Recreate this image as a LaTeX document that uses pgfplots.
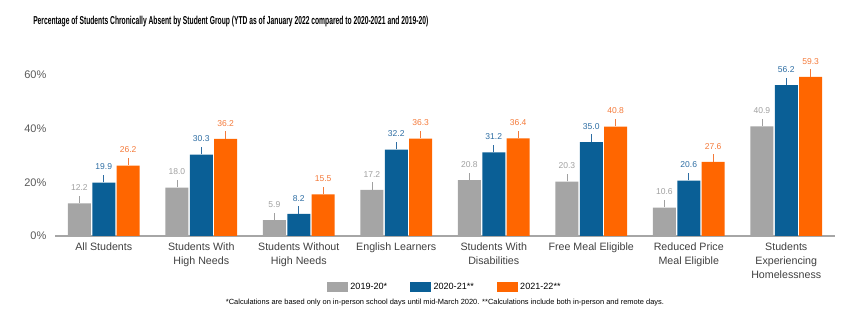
\documentclass[border=0pt]{standalone}
\usepackage{fontspec}
\setmainfont{Liberation Sans}
\usepackage{pgfplots}
\pgfplotsset{compat=1.18}
\usepackage{graphicx}
\definecolor{cgray}{HTML}{A5A5A5}
\definecolor{cblue}{HTML}{0A5F96}
\definecolor{corange}{HTML}{FF6600}
\definecolor{lgray}{HTML}{A0A0A0}
\definecolor{lblue}{HTML}{2D6DA3}
\definecolor{lorange}{HTML}{F47A3A}
\definecolor{xlab}{HTML}{404040}
\definecolor{ylab}{HTML}{595959}
\definecolor{axgray}{HTML}{A6A6A6}
\begin{document}
\begin{tikzpicture}
\useasboundingbox (0,0) rectangle (637.5pt,240.75pt);
\node[anchor=west, inner sep=0pt] at (24.75pt,224.25pt) {\resizebox{296.25pt}{\height}{\bfseries\fontsize{8.6}{10}\selectfont Percentage of Students Chronically Absent by Student Group (YTD as of January 2022 compared to 2020-2021 and 2019-20)}};
\begin{axis}[
  at={(41.25pt,63.75pt)}, anchor=south west,
  scale only axis, width=585pt, height=130.8pt,
  xmin=-0.5, xmax=7.5, ymin=0, ymax=65,
  ybar, bar width=17.25pt,
  xtick={0,...,7},
  xticklabels={All Students,{Students With\\High Needs},{Students Without\\High Needs},English Learners,{Students With\\Disabilities},Free Meal Eligible,{Reduced Price\\Meal Eligible},{Students\\Experiencing\\Homelessness}},
  x tick label style={align=center, font=\fontsize{8}{10.5}\selectfont, text=xlab, yshift=-1.5pt},
  ytick={0,20,40,60},
  yticklabel={\pgfmathprintnumber{\tick}\%},
  y tick label style={font=\fontsize{8.25}{10}\selectfont, text=ylab, xshift=-3pt},
  major tick length=0pt,
  axis x line*=bottom, axis y line*=left,
  y axis line style={draw=none},
  x axis line style={draw=axgray, line width=0.9pt},
  /pgf/number format/assume math mode=true,
  nodes near coords={\shortstack{\pgfmathprintnumber[fixed,fixed zerofill,precision=1]{\pgfplotspointmeta}\\[0.8pt]\rule{0.45pt}{5.5pt}}},
  nodes near coords align={vertical},
  every node near coord/.append style={font=\fontsize{6.4}{7}\selectfont, inner sep=0pt, anchor=south},
  clip=false,
  legend style={at={(0.5,-0.2924)}, anchor=center, draw=none, legend columns=3, font=\fontsize{6.8}{8}\selectfont, /tikz/every even column/.append style={column sep=15pt}},
  legend image code/.code={\fill[#1] (0pt,-3.75pt) rectangle (15.75pt,3.75pt);},
]
\addplot[fill=cgray, draw=none, bar shift=-18.3pt, every node near coord/.append style={text=lgray}] coordinates {(0,12.2) (1,18.0) (2,5.9) (3,17.2) (4,20.8) (5,20.3) (6,10.6) (7,40.9)};
\addplot[fill=cblue, draw=none, bar shift=0pt, every node near coord/.append style={text=lblue}] coordinates {(0,19.9) (1,30.3) (2,8.2) (3,32.2) (4,31.2) (5,35.0) (6,20.6) (7,56.2)};
\addplot[fill=corange, draw=none, bar shift=18.3pt, every node near coord/.append style={text=lorange}] coordinates {(0,26.2) (1,36.2) (2,15.5) (3,36.3) (4,36.4) (5,40.8) (6,27.6) (7,59.3)};
\legend{2019-20*,2020-21**,2021-22**}
\end{axis}
\node[inner sep=0pt] at (333.75pt,13.5pt) {\fontsize{5.6}{7}\selectfont *Calculations are based only on in-person school days until mid-March 2020. **Calculations include both in-person and remote days.};
\end{tikzpicture}
\end{document}
